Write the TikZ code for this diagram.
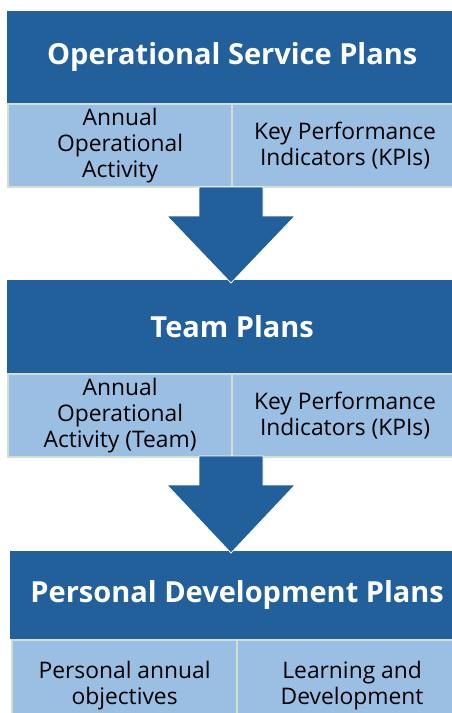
\documentclass[tikz,border=0pt]{standalone}
\usepackage{fontspec}
\setmainfont{Open Sans}
\usetikzlibrary{calc}
\definecolor{darkblue}{HTML}{22609B}
\definecolor{lightblue}{HTML}{9BBFE3}
\definecolor{cellrule}{HTML}{D2E1CF}
\tikzset{
  x=1pt, y=1pt,
  header/.style={fill=darkblue, text=white, inner sep=0pt, anchor=north west,
    minimum height=92pt, font=\fontsize{29}{32}\selectfont\bfseries},
  cell/.style={fill=lightblue, draw=cellrule, line width=2.2pt, inner sep=0pt,
    anchor=north west, minimum height=83pt, align=center, text=black,
    font=\fontsize{22.8}{26}\selectfont},
  bigarrow/.style={fill=darkblue, draw=white, line width=0.8pt},
}
\begin{document}
\begin{tikzpicture}
\useasboundingbox (0,0) rectangle (452,-713);
\clip (0,0) rectangle (452,-713);

% tier 1
\node[header, minimum width=450pt] (h1) at (7,-11) {Operational Service Plans};
\node[cell, minimum width=224pt] (a1) at (7,-103) {Annual\\Operational\\Activity};
\node[cell, minimum width=226pt] (k1) at (231,-103) {Key Performance\\Indicators (KPIs)};

% tier 2
\node[header, minimum width=450pt, minimum height=93pt] (h2) at (7,-280) {Team Plans};
\node[cell, minimum width=224pt] (a2) at (7,-373) {Annual\\Operational\\Activity (Team)};
\node[cell, minimum width=226pt] (k2) at (231,-373) {Key Performance\\Indicators (KPIs)};

% tier 3
\node[header, minimum width=454pt, minimum height=88pt] (h3) at (10,-551) {Personal Development Plans};
\node[cell, minimum width=225pt, minimum height=90pt] (a3) at (11,-639) {Personal annual\\objectives};
\node[cell, minimum width=230pt, minimum height=90pt] (k3) at (236,-639) {Learning and\\Development};

% block arrows between tiers
\coordinate (s1) at (231,-187);
\coordinate (t1) at (231,-283);
\fill[bigarrow] ($(s1)+(-32,0)$) -- ($(s1)+(32,0)$) -- ($(s1)+(32,-29)$) -- ($(s1)+(64,-29)$)
  -- (t1) -- ($(s1)+(-64,-29)$) -- ($(s1)+(-32,-29)$) -- cycle;

\coordinate (s2) at (231,-456);
\coordinate (t2) at (231,-553);
\fill[bigarrow] ($(s2)+(-32,0)$) -- ($(s2)+(32,0)$) -- ($(s2)+(32,-29)$) -- ($(s2)+(64,-29)$)
  -- (t2) -- ($(s2)+(-64,-29)$) -- ($(s2)+(-32,-29)$) -- cycle;
\end{tikzpicture}
\end{document}
